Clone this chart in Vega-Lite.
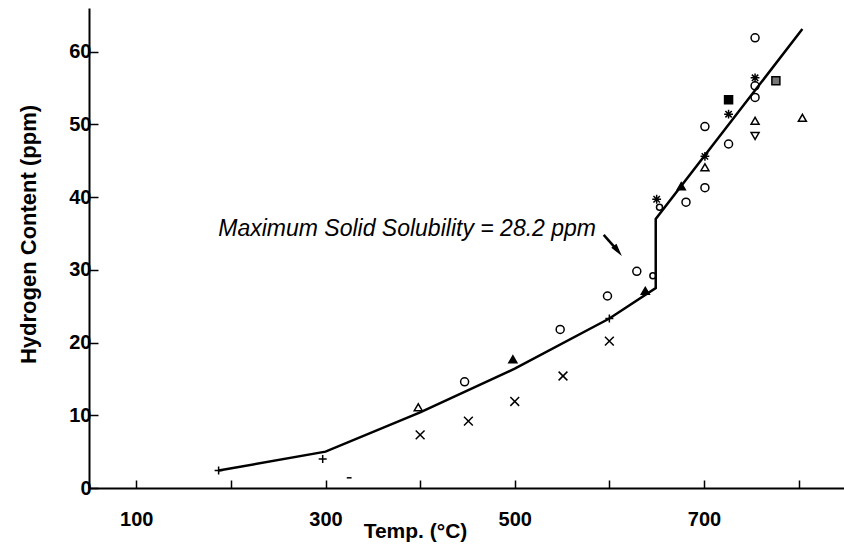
{
  "$schema": "https://vega.github.io/schema/vega-lite/v6.json",
  "width": 755,
  "height": 480,
  "autosize": "none",
  "padding": {"left": 89, "top": 8, "right": 0, "bottom": 61},
  "background": "white",
  "config": {
    "view": {"stroke": null},
    "font": "Liberation Sans",
    "axis": {
      "grid": false,
      "domainColor": "black",
      "domainWidth": 2,
      "tickColor": "black",
      "tickWidth": 1.5,
      "labelColor": "black",
      "labelFont": "Liberation Sans",
      "labelFontWeight": "bold",
      "labelFontSize": 20,
      "titleColor": "black",
      "titleFont": "Liberation Sans",
      "titleFontWeight": "bold",
      "titleFontSize": 21
    }
  },
  "datasets": {
    "curve": [
      {"i": 1, "T": 187, "H": 2.4},
      {"i": 2, "T": 300, "H": 5.0},
      {"i": 3, "T": 400, "H": 10.4},
      {"i": 4, "T": 500, "H": 16.4},
      {"i": 5, "T": 600, "H": 23.3},
      {"i": 6, "T": 649, "H": 27.5},
      {"i": 7, "T": 649, "H": 37.0},
      {"i": 8, "T": 804, "H": 63.1}
    ],
    "points": [
      {"T": 187, "H": 2.4, "sym": "plus"},
      {"T": 297, "H": 4.0, "sym": "plus"},
      {"T": 325, "H": 1.4, "sym": "dash"},
      {"T": 400, "H": 7.3, "sym": "cross"},
      {"T": 398, "H": 11.1, "sym": "triangle"},
      {"T": 451, "H": 9.2, "sym": "cross"},
      {"T": 447, "H": 14.6, "sym": "circle"},
      {"T": 500, "H": 11.9, "sym": "cross"},
      {"T": 498, "H": 17.7, "sym": "filled-triangle"},
      {"T": 551, "H": 15.4, "sym": "cross"},
      {"T": 548, "H": 21.8, "sym": "circle"},
      {"T": 600, "H": 20.2, "sym": "cross"},
      {"T": 600, "H": 23.3, "sym": "plus"},
      {"T": 598, "H": 26.4, "sym": "circle"},
      {"T": 629, "H": 29.8, "sym": "circle"},
      {"T": 646, "H": 29.2, "sym": "small-circle"},
      {"T": 638, "H": 27.1, "sym": "filled-triangle"},
      {"T": 650, "H": 39.7, "sym": "star"},
      {"T": 653, "H": 38.6, "sym": "small-circle"},
      {"T": 676, "H": 41.5, "sym": "filled-triangle"},
      {"T": 681, "H": 39.3, "sym": "circle"},
      {"T": 701, "H": 44.1, "sym": "triangle"},
      {"T": 701, "H": 45.6, "sym": "star"},
      {"T": 701, "H": 41.3, "sym": "circle"},
      {"T": 701, "H": 49.7, "sym": "circle"},
      {"T": 726, "H": 53.4, "sym": "filled-square"},
      {"T": 726, "H": 51.4, "sym": "star"},
      {"T": 726, "H": 47.3, "sym": "circle"},
      {"T": 754, "H": 61.9, "sym": "circle"},
      {"T": 754, "H": 56.4, "sym": "star"},
      {"T": 754, "H": 55.3, "sym": "circle"},
      {"T": 754, "H": 53.7, "sym": "circle"},
      {"T": 754, "H": 50.5, "sym": "triangle"},
      {"T": 754, "H": 48.4, "sym": "triangle-down"},
      {"T": 776, "H": 56.0, "sym": "hatched-square"},
      {"T": 804, "H": 50.9, "sym": "triangle"}
    ],
    "note": [
      {"T": 186.6, "H": 35.6, "label": "Maximum Solid Solubility = 28.2 ppm"}
    ],
    "arrow": [
      {"T": 594, "H": 34.8, "T2": 609, "H2": 32.6}
    ]
  },
  "encoding": {
    "x": {
      "field": "T",
      "type": "quantitative",
      "scale": {"domain": [50, 848], "nice": false, "zero": false},
      "axis": {
        "values": [100, 200, 300, 400, 500, 600, 700, 800],
        "labelExpr": "datum.value % 200 == 100 ? datum.label : ''",
        "tickSize": -8,
        "labelPadding": 29,
        "title": "Temp. (°C)",
        "titleX": 326,
        "titleY": 43,
        "titleAlign": "center",
        "titleBaseline": "middle"
      }
    },
    "y": {
      "field": "H",
      "type": "quantitative",
      "scale": {"domain": [0, 66], "nice": false, "zero": false},
      "axis": {
        "values": [0, 10, 20, 30, 40, 50, 60],
        "tickSize": -9,
        "labelPadding": 7,
        "title": "Hydrogen Content (ppm)",
        "titleAngle": 270,
        "titleFontSize": 22,
        "titleX": -61,
        "titleY": 226,
        "titleAlign": "center",
        "titleBaseline": "middle"
      }
    }
  },
  "layer": [
    {
      "data": {"name": "curve"},
      "mark": {"type": "line", "color": "black", "strokeWidth": 2.5},
      "encoding": {"order": {"field": "i", "type": "quantitative"}}
    },
    {
      "data": {"name": "points"},
      "mark": {"type": "point", "filled": true, "stroke": "black", "strokeWidth": 1.5, "opacity": 1, "size": 64},
      "encoding": {
        "shape": {
          "field": "sym",
          "type": "nominal",
          "legend": null,
          "scale": {
            "domain": ["circle", "small-circle", "cross", "plus", "dash", "triangle", "triangle-down", "filled-triangle", "filled-square", "hatched-square", "star"],
            "range": ["circle", "M -0.75 0 A 0.75 0.75 0 1 0 0.75 0 A 0.75 0.75 0 1 0 -0.75 0 Z", "M -1.1 -1.1 L 1.1 1.1 M -1.1 1.1 L 1.1 -1.1", "M -1 0 L 1 0 M 0 -1 L 0 1", "M -0.6 0 L 0.6 0", "triangle-up", "triangle-down", "triangle-up", "square", "square", "M -1.1 0 L 1.1 0 M 0 -1.1 L 0 1.1 M -0.8 -0.8 L 0.8 0.8 M -0.8 0.8 L 0.8 -0.8"]
          }
        },
        "fill": {
          "field": "sym",
          "type": "nominal",
          "legend": null,
          "scale": {
            "domain": ["circle", "small-circle", "cross", "plus", "dash", "triangle", "triangle-down", "filled-triangle", "filled-square", "hatched-square", "star"],
            "range": ["transparent", "transparent", "transparent", "transparent", "transparent", "transparent", "transparent", "black", "black", "#777777", "transparent"]
          }
        }
      }
    },
    {
      "data": {"name": "note"},
      "mark": {"type": "text", "align": "left", "baseline": "middle", "fontStyle": "italic", "fontSize": 23, "font": "Liberation Sans", "color": "black"},
      "encoding": {"text": {"field": "label"}}
    },
    {
      "data": {"name": "arrow"},
      "mark": {"type": "rule", "color": "black", "strokeWidth": 2.5},
      "encoding": {
        "x2": {"field": "T2"},
        "y2": {"field": "H2"}
      }
    },
    {
      "data": {"name": "arrow"},
      "mark": {"type": "point", "filled": true, "color": "black", "opacity": 1, "shape": "M0,-1L0.5,1L-0.5,1Z", "size": 170, "angle": 142},
      "encoding": {
        "x": {"field": "T2", "type": "quantitative"},
        "y": {"field": "H2", "type": "quantitative"}
      }
    }
  ]
}
